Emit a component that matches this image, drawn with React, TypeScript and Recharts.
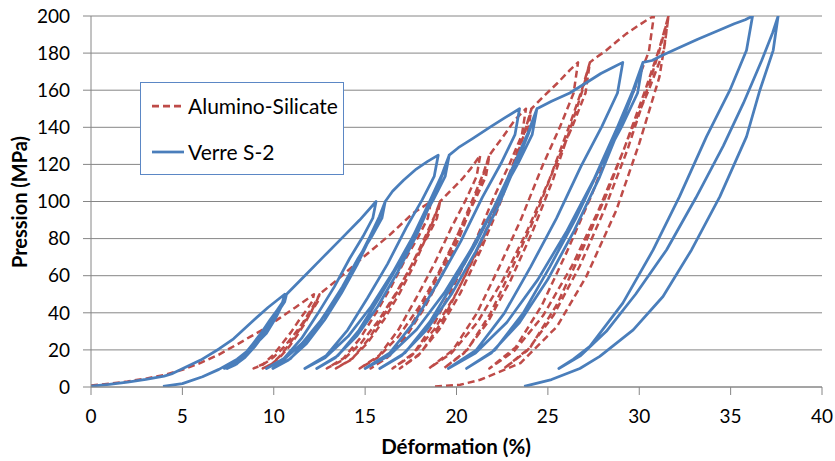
import { CartesianGrid, Label, Line, LineChart, XAxis, YAxis } from 'recharts'

type Pt = [number, number]

const xTicks = [0, 5, 10, 15, 20, 25, 30, 35, 40]
const yTicks = [0, 20, 40, 60, 80, 100, 120, 140, 160, 180, 200]

// Verre S-2 : chargement initial puis cycles à 50/100/125/150/175/200 MPa
const blueFirstLoad: Pt[] = [[0, 0.5], [1, 1.4], [2, 2.6], [3, 4.1], [4, 5.9], [4.4, 7], [5, 9.8], [6, 14.5], [7, 20.5], [7.8, 26], [8.9, 36], [9.7, 43], [10.6, 50]]
const blueCycle50: Pt[] = [
  [10.5, 46], [10.2, 41.6], [9.81, 36.4], [9.35, 29.6], [8.85, 23.2], [8.36, 17.2], [7.83, 12.4], [7.3, 10],
  [7.78, 12], [8.32, 16], [8.86, 21.6], [9.37, 28], [9.85, 34.8], [10.26, 41.6], [10.53, 46.4], [10.7, 50],
  [10.6, 46], [10.31, 41.6], [9.92, 36.4], [9.47, 29.6], [8.98, 23.2], [8.49, 17.2], [7.97, 12.4], [7.45, 10],
  [7.9, 12], [8.43, 16], [8.95, 21.6], [9.43, 28], [9.89, 34.8], [10.28, 41.6], [10.54, 46.4], [10.7, 50],
]
const blueRamp100: Pt[] = [[11.7, 60], [12.7, 70], [13.7, 80], [14.7, 90], [15.6, 100]]
const blueCycle100: Pt[] = [
  [15.42, 91], [14.88, 81.1], [14.16, 69.4], [13.32, 54.1], [12.42, 39.7], [11.52, 26.2], [10.56, 15.4], [9.6, 10],
  [10.51, 14.5], [11.55, 23.5], [12.59, 36.1], [13.57, 50.5], [14.48, 65.8], [15.26, 81.1], [15.78, 91.9], [16.1, 100],
  [15.92, 91], [15.36, 81.1], [14.62, 69.4], [13.76, 54.1], [12.84, 39.7], [11.92, 26.2], [10.93, 15.4], [9.95, 10],
  [10.81, 14.5], [11.8, 23.5], [12.78, 36.1], [13.7, 50.5], [14.56, 65.8], [15.3, 81.1], [15.79, 91.9], [16.1, 100],
]
const blueRamp125: Pt[] = [[16.5, 105.5], [17.1, 111.5], [17.8, 117.5], [18.4, 121.5], [19.0, 125]]
const blueCycle125: Pt[] = [
  [18.78, 113.5], [18.12, 100.9], [17.25, 85.9], [16.23, 66.4], [15.13, 48], [14.04, 30.7], [12.87, 16.9], [11.7, 10],
  [12.81, 15.8], [14.07, 27.3], [15.33, 43.4], [16.52, 61.8], [17.63, 81.3], [18.57, 100.9], [19.21, 114.7], [19.6, 125],
  [19.38, 113.5], [18.73, 100.9], [17.86, 85.9], [16.85, 66.4], [15.76, 48], [14.67, 30.7], [13.51, 16.9], [12.35, 10],
  [13.37, 15.8], [14.53, 27.3], [15.69, 43.4], [16.77, 61.8], [17.79, 81.3], [18.66, 100.9], [19.24, 114.7], [19.6, 125],
]
const blueRamp150: Pt[] = [[20.1, 129], [20.9, 134], [21.9, 140.5], [22.7, 145.5], [23.45, 150]]
const blueCycle150: Pt[] = [
  [23.2, 136], [22.44, 120.6], [21.42, 102.4], [20.24, 78.6], [18.97, 56.2], [17.7, 35.2], [16.35, 18.4], [15.0, 10],
  [16.32, 17], [17.82, 31], [19.32, 50.6], [20.73, 73], [22.05, 96.8], [23.18, 120.6], [23.93, 137.4], [24.4, 150],
  [24.14, 136], [23.37, 120.6], [22.34, 102.4], [21.13, 78.6], [19.84, 56.2], [18.55, 35.2], [17.18, 18.4], [15.8, 10],
  [17.0, 17], [18.38, 31], [19.76, 50.6], [21.05, 73], [22.25, 96.8], [23.28, 120.6], [23.97, 137.4], [24.4, 150],
]
const blueRamp175: Pt[] = [[25.2, 154], [26.2, 158.5], [27.1, 164], [27.9, 169], [28.6, 172.5], [29.1, 175]]
const blueCycle175: Pt[] = [
  [28.81, 158.5], [27.95, 140.4], [26.81, 118.9], [25.47, 90.9], [24.04, 64.5], [22.61, 39.7], [21.08, 19.9], [19.55, 10],
  [21.04, 18.3], [22.75, 34.8], [24.45, 57.9], [26.05, 84.3], [27.54, 112.3], [28.82, 140.4], [29.67, 160.2], [30.2, 175],
  [29.91, 158.5], [29.04, 140.4], [27.88, 118.9], [26.53, 90.9], [25.09, 64.5], [23.64, 39.7], [22.09, 19.9], [20.55, 10],
  [21.9, 18.3], [23.45, 34.8], [24.99, 57.9], [26.44, 84.3], [27.79, 112.3], [28.95, 140.4], [29.72, 160.2], [30.2, 175],
]
const blueRamp200: Pt[] = [[30.7, 176], [31.3, 179], [32.2, 183], [33.2, 187.5], [34.3, 192], [35.2, 195.8], [35.8, 198], [36.2, 200]]
const blueCycle200: Pt[] = [
  [35.87, 181.5], [34.96, 160], [33.68, 135], [32.2, 102.6], [30.76, 73.9], [29.1, 45.2], [27.3, 21.9], [26.4, 15], [25.6, 10],
  [26.8, 17], [28.2, 30], [29.8, 50], [31.5, 74], [33.1, 102], [34.6, 130], [35.7, 153], [36.7, 176], [37.3, 191], [37.6, 200],
  [37.33, 181.5], [36.6, 160], [35.87, 135], [34.41, 102.6], [32.86, 73.9], [31.3, 48.8], [29.67, 30.8], [27.84, 16.5], [26.75, 10], [25.2, 4], [23.7, 0.3],
]
const blueSecondLoad: Pt[] = [[3.94, 0.3], [5, 1.8], [6.1, 5.5], [7, 9.5], [8, 15], [8.9, 22], [9.6, 29], [10.1, 37], [10.4, 43], [10.6, 50]]

// Alumino-Silicate
const redFirstLoad: Pt[] = [[0, 0.8], [1, 1.8], [2, 3], [3, 4.5], [4, 6.5], [5, 9.3], [6, 13], [7, 17.5], [8, 23], [8.7, 27], [9.5, 31.5], [10.3, 37], [11.2, 43], [12.2, 50]]
const redCycle50: Pt[] = [
  [12.1, 46], [11.8, 41.6], [11.41, 36.4], [10.95, 29.6], [10.45, 23.2], [9.96, 17.2], [9.43, 12.4], [8.9, 10],
  [9.4, 12], [9.98, 16], [10.56, 21.6], [11.1, 28], [11.6, 34.8], [12.03, 41.6], [12.32, 46.4], [12.5, 50],
  [12.41, 46], [12.13, 41.6], [11.76, 36.4], [11.32, 29.6], [10.86, 23.2], [10.39, 17.2], [9.9, 12.4], [9.4, 10],
  [9.83, 12], [10.33, 16], [10.83, 21.6], [11.29, 28], [11.73, 34.8], [12.1, 41.6], [12.35, 46.4], [12.5, 50],
]
const redRamp100: Pt[] = [[13.5, 58], [14.9, 70], [16.35, 82], [17.6, 93.5], [18.6, 100]]
const redCycle100: Pt[] = [
  [18.43, 91], [17.92, 81.1], [17.23, 69.4], [16.43, 54.1], [15.58, 39.7], [14.72, 26.2], [13.81, 15.4], [12.9, 10],
  [13.77, 14.5], [14.76, 23.5], [15.75, 36.1], [16.68, 50.5], [17.55, 65.8], [18.29, 81.1], [18.79, 91.9], [19.1, 100],
  [18.93, 91], [18.42, 81.1], [17.73, 69.4], [16.93, 54.1], [16.08, 39.7], [15.22, 26.2], [14.31, 15.4], [13.4, 10],
  [14.2, 14.5], [15.11, 23.5], [16.02, 36.1], [16.88, 50.5], [17.68, 65.8], [18.36, 81.1], [18.82, 91.9], [19.1, 100],
]
const redRamp125: Pt[] = [[19.7, 106], [20.3, 112], [20.8, 118], [21.3, 125]]
const redCycle125: Pt[] = [
  [21.1, 113.5], [20.51, 100.9], [19.72, 85.9], [18.79, 66.4], [17.8, 48], [16.81, 30.7], [15.76, 16.9], [14.7, 10],
  [15.69, 15.8], [16.83, 27.3], [17.97, 43.4], [19.03, 61.8], [20.03, 81.3], [20.88, 100.9], [21.45, 114.7], [21.8, 125],
  [21.61, 113.5], [21.02, 100.9], [20.24, 85.9], [19.33, 66.4], [18.36, 48], [17.38, 30.7], [16.34, 16.9], [15.3, 10],
  [16.21, 15.8], [17.25, 27.3], [18.29, 43.4], [19.27, 61.8], [20.18, 81.3], [20.96, 100.9], [21.48, 114.7], [21.8, 125],
]
const redRamp150: Pt[] = [[22.55, 135], [23.2, 144], [23.8, 150]]
const redCycle150: Pt[] = [
  [23.58, 136], [22.92, 120.6], [22.05, 102.4], [21.03, 78.6], [19.93, 56.2], [18.84, 35.2], [17.67, 18.4], [16.5, 10],
  [17.56, 17], [18.78, 31], [19.99, 50.6], [21.14, 73], [22.2, 96.8], [23.11, 120.6], [23.72, 137.4], [24.1, 150],
  [23.88, 136], [23.24, 120.6], [22.37, 102.4], [21.36, 78.6], [20.28, 56.2], [19.2, 35.2], [18.05, 18.4], [16.9, 10],
  [17.91, 17], [19.06, 31], [20.21, 50.6], [21.29, 73], [22.3, 96.8], [23.16, 120.6], [23.74, 137.4], [24.1, 150],
]
const redRamp175: Pt[] = [[24.8, 157], [25.5, 163.6], [26.2, 170.8], [26.65, 175]]
const redCycle175: Pt[] = [
  [26.41, 158.5], [25.67, 140.4], [24.69, 118.9], [23.55, 90.9], [22.33, 64.5], [21.11, 39.7], [19.8, 19.9], [18.5, 10],
  [19.73, 18.3], [21.14, 34.8], [22.55, 57.9], [23.87, 84.3], [25.1, 112.3], [26.16, 140.4], [26.86, 160.2], [27.3, 175],
  [27.06, 158.5], [26.34, 140.4], [25.38, 118.9], [24.26, 90.9], [23.06, 64.5], [21.86, 39.7], [20.58, 19.9], [19.3, 10],
  [20.42, 18.3], [21.7, 34.8], [22.98, 57.9], [24.18, 84.3], [25.3, 112.3], [26.26, 140.4], [26.9, 160.2], [27.3, 175],
]
const redRamp200: Pt[] = [[27.7, 178], [28.2, 181.5], [28.8, 186.5], [29.3, 190.5], [29.9, 194.5], [30.4, 197.7], [30.8, 200]]
const redCycle200: Pt[] = [
  [30.53, 181], [29.72, 160.1], [28.64, 135.4], [27.38, 103.1], [26.03, 72.7], [24.68, 44.2], [23.24, 21.4], [21.8, 10],
  [23.17, 19.5], [24.74, 38.5], [26.31, 65.1], [27.78, 95.5], [29.15, 127.8], [30.33, 160.1], [31.11, 182.9], [31.6, 200],
  [31.33, 181], [30.52, 160.1], [29.44, 135.4], [28.18, 103.1], [26.83, 72.7], [25.48, 44.2], [24.04, 21.4], [22.6, 10],
  [23.86, 19.5], [25.3, 38.5], [26.74, 65.1], [28.09, 95.5], [29.35, 127.8], [30.43, 160.1], [31.15, 182.9], [31.6, 200],
]
const redFinalUnload: Pt[] = [[31.4, 185], [31.1, 167], [30.0, 131.3], [28.75, 95.4], [27.1, 59.5], [25.5, 32.6], [23.5, 12.9], [21.3, 3.9], [20.2, 1.2], [18.8, 0.3]]

type Row = { x: number; y: number | null }

const toRows = (segments: Pt[][]): Row[] =>
  segments.flat().map(([x, y]) => ({ x, y }))

const blueRows: Row[] = [
  ...toRows([
    blueFirstLoad, blueCycle50, blueRamp100, blueCycle100, blueRamp125, blueCycle125,
    blueRamp150, blueCycle150, blueRamp175, blueCycle175, blueRamp200, blueCycle200,
  ]),
  { x: 23.7, y: null },
  ...toRows([blueSecondLoad]),
]

const redRows: Row[] = toRows([
  redFirstLoad, redCycle50, redRamp100, redCycle100, redRamp125, redCycle125,
  redRamp150, redCycle150, redRamp175, redCycle175, redRamp200, redCycle200, redFinalUnload,
])

const BLUE = '#4A7EBB'
const RED = '#BE4B48'
const GRID = '#868686'
const FONT = 'Lato, "Open Sans", sans-serif'

function LegendBox() {
  return (
    <div
      style={{
        position: 'absolute',
        left: 140,
        top: 82,
        width: 202,
        height: 91,
        border: '1px solid #5B87C5',
        background: '#fff',
        fontFamily: FONT,
        fontSize: 21,
        color: '#000',
      }}
    >
      <svg width={44} height={91} style={{ position: 'absolute', left: 0, top: 0 }}>
        <line x1={11} x2={41} y1={23} y2={23} stroke={RED} strokeWidth={2.75} strokeDasharray="7 4" />
        <line x1={11} x2={43} y1={69} y2={69} stroke={BLUE} strokeWidth={2.75} />
      </svg>
      <div style={{ position: 'absolute', left: 47, top: 9, lineHeight: '28px' }}>Alumino-Silicate</div>
      <div style={{ position: 'absolute', left: 47, top: 55, lineHeight: '28px' }}>Verre S-2</div>
    </div>
  )
}

export default function App() {
  return (
    <div style={{ position: 'absolute', left: 0, top: 0, width: 835, height: 461, background: '#fff', fontFamily: FONT }}>
      <LineChart width={835} height={461} margin={{ top: 16, right: 13, bottom: 14, left: 0 }}>
        <CartesianGrid horizontal vertical={false} stroke={GRID} />
        <XAxis
          type="number"
          dataKey="x"
          domain={[0, 40]}
          ticks={xTicks}
          allowDataOverflow
          height={60}
          tickSize={8}
          tickMargin={15}
          axisLine={{ stroke: GRID }}
          tickLine={{ stroke: GRID }}
          tick={{ fill: '#000', fontSize: 19, fontFamily: FONT }}
        >
          <Label
            content={() => (
              <text x={456} y={454} textAnchor="middle" fontFamily={FONT} fontSize={20.5} fontWeight="bold" fill="#000">
                Déformation (%)
              </text>
            )}
          />
        </XAxis>
        <YAxis
          type="number"
          domain={[0, 200]}
          ticks={yTicks}
          allowDataOverflow
          width={91}
          tickSize={8}
          tickMargin={13}
          axisLine={{ stroke: GRID }}
          tickLine={{ stroke: GRID }}
          tick={{ fill: '#000', fontSize: 19, fontFamily: FONT }}
        >
          <Label
            content={() => (
              <text x={27} y={202} transform="rotate(-90 27 202)" textAnchor="middle" fontFamily={FONT} fontSize={20} fontWeight="bold" fill="#000">
                Pression (MPa)
              </text>
            )}
          />
        </YAxis>
        <Line
          data={redRows}
          dataKey="y"
          type="linear"
          stroke={RED}
          strokeWidth={2.5}
          strokeDasharray="7 4"
          strokeLinejoin="round"
          dot={false}
          isAnimationActive={false}
        />
        <Line
          data={blueRows}
          dataKey="y"
          type="linear"
          stroke={BLUE}
          strokeWidth={2.75}
          strokeLinejoin="round"
          dot={false}
          isAnimationActive={false}
        />
      </LineChart>
      <LegendBox />
    </div>
  )
}
